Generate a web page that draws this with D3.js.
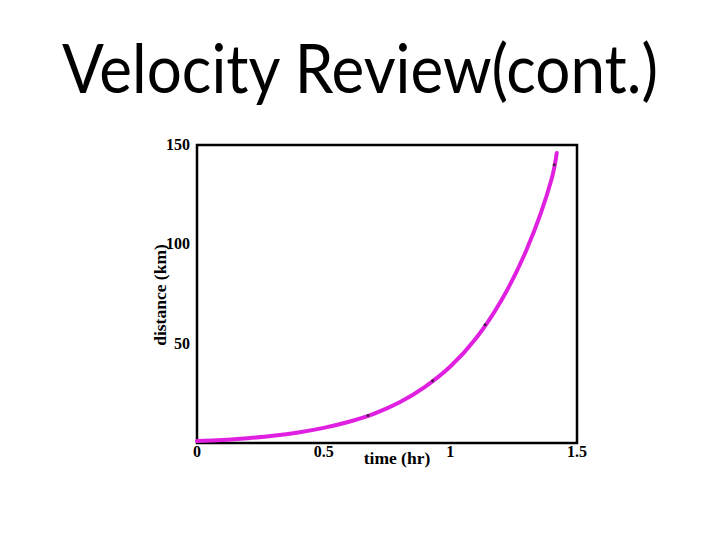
<!DOCTYPE html>
<html>
<head>
<meta charset="utf-8">
<script src="https://cdn.jsdelivr.net/npm/d3@7"></script>
<style>
  html, body { margin: 0; padding: 0; background: #fff; }
  svg { display: block; }
</style>
</head>
<body>
<svg id="chart" width="720" height="540"></svg>
<script>
// ---- data ----
const titleText = "Velocity Review(cont.)";
const xLabel = "time (hr)";
const yLabel = "distance (km)";
const timeHr = [0, 0.1, 0.2, 0.3, 0.4, 0.5, 0.6, 0.7, 0.8, 0.9, 1.0, 1.1, 1.2, 1.3, 1.4, 1.42];
const distanceKm = [1, 1.5, 2.4, 3.6, 5.3, 7.6, 10.7, 14.8, 20.5, 28.3, 38.5, 52.5, 71.5, 97, 133, 146];
const markerT = [0.675, 0.93, 1.137, 1.41];
const markerD = [13.8, 31.3, 59.5, 140];
const xTicks = [0, 0.5, 1, 1.5];
const xTickLabels = ["0", "0.5", "1", "1.5"];
const yTicks = [50, 100, 150];
const yTickLabels = ["50", "100", "150"];

const svg = d3.select("#chart");

// title
svg.append("text")
  .attr("x", 360).attr("y", 93)
  .attr("text-anchor", "middle")
  .attr("font-family", "Lato, 'Open Sans', sans-serif")
  .attr("font-size", 68)
  .attr("fill", "#000")
  .attr("textLength", 596)
  .attr("lengthAdjust", "spacingAndGlyphs")
  .text(titleText);

const L = 197, R = 577, T = 145, B = 443;
const x = d3.scaleLinear().domain([0, 1.5]).range([L, R]);
const y = d3.scaleLinear().domain([0, 150]).range([B, T]);

const serif = "'Liberation Serif', 'Times New Roman', serif";

// frame
svg.append("rect")
  .attr("x", L).attr("y", T)
  .attr("width", R - L).attr("height", B - T)
  .attr("fill", "none").attr("stroke", "#000").attr("stroke-width", 2.5);

// x tick labels
svg.append("g").selectAll("text").data(xTicks).join("text")
  .attr("x", d => x(d)).attr("y", 457)
  .attr("text-anchor", "middle")
  .attr("font-family", serif).attr("font-weight", "bold").attr("font-size", 16)
  .text((d, i) => xTickLabels[i]);

// y tick labels
svg.append("g").selectAll("text").data(yTicks).join("text")
  .attr("x", 190).attr("y", d => y(d) + 5)
  .attr("text-anchor", "end")
  .attr("font-family", serif).attr("font-weight", "bold").attr("font-size", 16)
  .text((d, i) => yTickLabels[i]);

// axis labels
svg.append("text")
  .attr("x", 397).attr("y", 464)
  .attr("text-anchor", "middle")
  .attr("font-family", serif).attr("font-weight", "bold").attr("font-size", 17.5)
  .text(xLabel);

svg.append("text")
  .attr("transform", "translate(166,295) rotate(-90)")
  .attr("text-anchor", "middle")
  .attr("font-family", serif).attr("font-weight", "bold").attr("font-size", 17.5)
  .text(yLabel);

// curve
const pts = timeHr.map((t, i) => [t, distanceKm[i]]);
const line = d3.line()
  .x(d => x(d[0])).y(d => y(d[1]))
  .curve(d3.curveCatmullRom);

svg.append("path")
  .datum(pts)
  .attr("d", line)
  .attr("fill", "none")
  .attr("stroke", "#e020e0")
  .attr("stroke-width", 4)
  .attr("stroke-linecap", "round");

// small dark marks on the curve
svg.append("g").selectAll("circle").data(markerT).join("circle")
  .attr("cx", d => x(d)).attr("cy", (d, i) => y(markerD[i]))
  .attr("r", 1.5)
  .attr("fill", "#402040");
</script>
</body>
</html>
